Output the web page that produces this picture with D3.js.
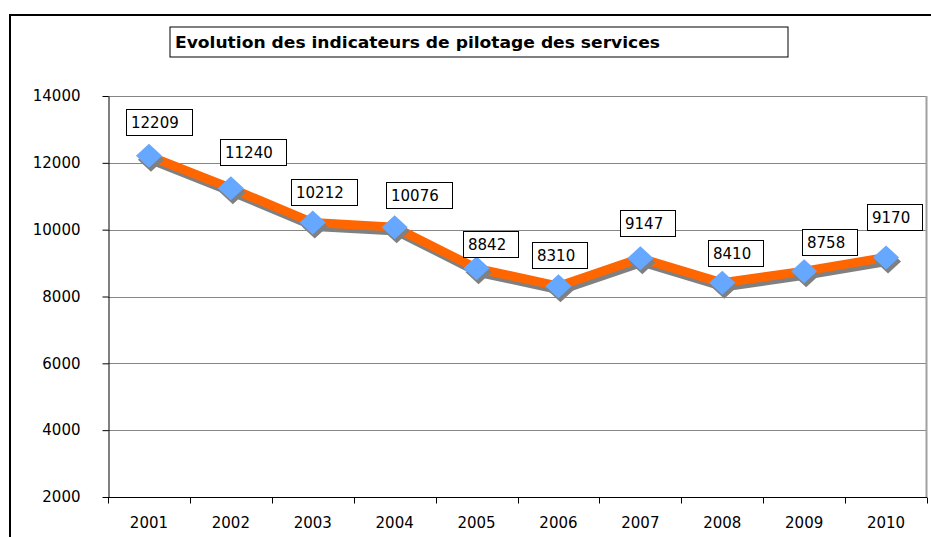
<!DOCTYPE html>
<html>
<head>
<meta charset="utf-8">
<script src="https://cdn.jsdelivr.net/npm/d3@7"></script>
<style>
  body { margin: 0; background: #fff; }
  svg { display: block; font-family: "DejaVu Sans", Verdana, sans-serif; }
</style>
</head>
<body>
<div id="chart"></div>
<script>
// Data
const years = ["2001", "2002", "2003", "2004", "2005", "2006", "2007", "2008", "2009", "2010"];
const values = [12209, 11240, 10212, 10076, 8842, 8310, 9147, 8410, 8758, 9170];
const yTicks = [2000, 4000, 6000, 8000, 10000, 12000, 14000];

// label box offsets relative to the marker (hand placed in the original)
const labelDx = [-23, -11, -22, -9, -14, -26, -20, -14, -2, -19];
const labelDy = [-20, -22, -17, -18, -10, -17, -21, -16, -15, -26];

const colors = {
  line: "#FF6600",
  shadow: "#808080",
  marker: "#66A8FF",
  grid: "#868686",
};

const width = 931, height = 537;
const margin = { top: 96, right: 4, bottom: 40, left: 108 };

const svg = d3.select("#chart").append("svg")
  .attr("width", width)
  .attr("height", height);

// outer chart frame (left + top only visible)
svg.append("path")
  .attr("d", `M10,${height} L10,15 L${width},15`)
  .attr("fill", "none")
  .attr("stroke", "#000")
  .attr("stroke-width", 2);

// title box
svg.append("rect")
  .attr("x", 170).attr("y", 27)
  .attr("width", 618).attr("height", 30)
  .attr("fill", "#fff")
  .attr("stroke", "#000")
  .attr("stroke-width", 1);
svg.append("text")
  .attr("x", 175).attr("y", 48)
  .attr("font-size", 16)
  .attr("font-weight", "bold")
  .attr("textLength", 485)
  .attr("lengthAdjust", "spacingAndGlyphs")
  .text("Evolution des indicateurs de pilotage des services");

const x = d3.scaleBand()
  .domain(years)
  .range([margin.left, width - margin.right]);

const y = d3.scaleLinear()
  .domain([2000, 14000])
  .range([height - margin.bottom, margin.top]);

// gridlines
svg.append("g")
  .selectAll("line")
  .data(yTicks.filter(d => d > 2000))
  .join("line")
  .attr("x1", margin.left)
  .attr("x2", width - margin.right)
  .attr("y1", d => Math.round(y(d)) + 0.5)
  .attr("y2", d => Math.round(y(d)) + 0.5)
  .attr("stroke", colors.grid);

// right plot border
svg.append("line")
  .attr("x1", width - margin.right - 0.5).attr("x2", width - margin.right - 0.5)
  .attr("y1", y(14000)).attr("y2", y(2000))
  .attr("stroke", "#a0a0a0")
  .attr("stroke-width", 2);

// y axis
const yAxis = svg.append("g")
  .attr("transform", `translate(${margin.left + 0.5},0)`)
  .call(d3.axisLeft(y).tickValues(yTicks).tickFormat(d3.format("d"))
    .tickSize(6).tickSizeOuter(0).tickPadding(22));
yAxis.selectAll("text").attr("font-size", 15).attr("fill", "#000").attr("font-family", "DejaVu Sans, Verdana, sans-serif");
yAxis.selectAll("line, path").attr("stroke", "#000");

// x axis with ticks at category boundaries
const xAxisG = svg.append("g")
  .attr("transform", `translate(0,${Math.round(y(2000)) + 0.5})`);
xAxisG.append("line")
  .attr("x1", margin.left).attr("x2", width - margin.right)
  .attr("stroke", "#000");
xAxisG.selectAll(".tick")
  .data(years.concat(["end"]))
  .join("line")
  .attr("class", "tick")
  .attr("x1", (d, i) => Math.round(margin.left + i * x.step()) + 0.5)
  .attr("x2", (d, i) => Math.round(margin.left + i * x.step()) + 0.5)
  .attr("y1", 0).attr("y2", 6)
  .attr("stroke", "#000");
xAxisG.selectAll("text")
  .data(years)
  .join("text")
  .attr("x", d => x(d) + x.bandwidth() / 2)
  .attr("y", 30)
  .attr("text-anchor", "middle")
  .attr("font-size", 15)
  .text(d => d);

const px = (d, i) => x(years[i]) + x.bandwidth() / 2;
const py = d => y(d);

// line shadow and line
const line = d3.line().x(px).y(py);
svg.append("path")
  .datum(values)
  .attr("d", line)
  .attr("transform", "translate(2,4)")
  .attr("fill", "none")
  .attr("stroke", colors.shadow)
  .attr("stroke-width", 9)
  .attr("stroke-linejoin", "miter");
svg.append("path")
  .datum(values)
  .attr("d", line)
  .attr("fill", "none")
  .attr("stroke", colors.line)
  .attr("stroke-width", 9)
  .attr("stroke-linejoin", "miter");

// markers
const diamond = "M0,-12 L13,0 L0,12 L-13,0 Z";
svg.append("g")
  .selectAll("path")
  .data(values)
  .join("path")
  .attr("d", diamond)
  .attr("transform", (d, i) => `translate(${px(d, i) + 2},${py(d) + 4})`)
  .attr("fill", colors.shadow);
svg.append("g")
  .selectAll("path")
  .data(values)
  .join("path")
  .attr("d", diamond)
  .attr("transform", (d, i) => `translate(${px(d, i)},${py(d)})`)
  .attr("fill", colors.marker);

// data labels
const labels = svg.append("g")
  .selectAll("g")
  .data(values)
  .join("g")
  .attr("transform", (d, i) =>
    `translate(${Math.round(px(d, i) + labelDx[i])},${Math.round(py(d) + labelDy[i])})`);
labels.append("rect")
  .attr("x", 0.5)
  .attr("y", -26.5)
  .attr("width", d => String(d).length === 5 ? 66 : 55)
  .attr("height", 26)
  .attr("fill", "#fff")
  .attr("stroke", "#000");
labels.append("text")
  .attr("x", 5)
  .attr("y", -8)
  .attr("font-size", 15)
  .text(d => d);
</script>
</body>
</html>
